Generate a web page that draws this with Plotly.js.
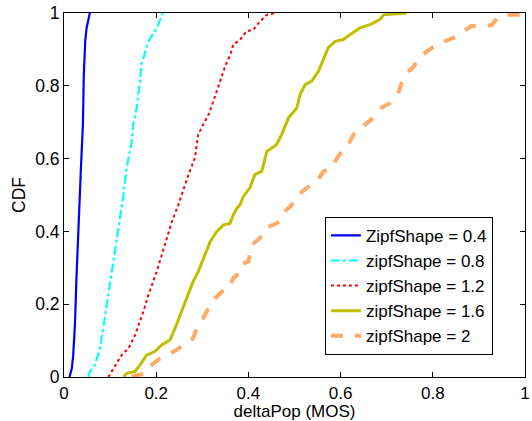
<!DOCTYPE html>
<html>
<head>
<meta charset="utf-8">
<script src="https://cdn.plot.ly/plotly-3.0.1.min.js"></script>
<style>html,body{margin:0;padding:0;background:#fff;}#chart{width:532px;height:421px;}</style>
</head>
<body>
<div id="chart"></div>
<script>
// Series names
const seriesNames = ["ZipfShape = 0.4", "zipfShape = 0.8", "zipfShape = 1.2", "zipfShape = 1.6", "zipfShape = 2"];

// ZipfShape = 0.4
const x04 = [0.012, 0.017, 0.020, 0.024, 0.027, 0.031, 0.035, 0.037, 0.041, 0.043, 0.046, 0.049, 0.056];
const y04 = [0.000, 0.024, 0.060, 0.152, 0.271, 0.408, 0.500, 0.583, 0.693, 0.831, 0.922, 0.959, 1.000];

// zipfShape = 0.8
const x08 = [0.053, 0.056, 0.067, 0.078, 0.085, 0.093, 0.100, 0.107, 0.118, 0.129, 0.132, 0.136, 0.140, 0.147, 0.150, 0.158, 0.161, 0.165, 0.168, 0.176, 0.183, 0.201, 0.215];
const y08 = [0.000, 0.015, 0.033, 0.079, 0.134, 0.198, 0.253, 0.317, 0.408, 0.500, 0.538, 0.574, 0.602, 0.648, 0.693, 0.739, 0.776, 0.812, 0.858, 0.895, 0.922, 0.959, 1.000];

// zipfShape = 1.2
const x12 = [0.096, 0.111, 0.125, 0.140, 0.154, 0.172, 0.183, 0.201, 0.212, 0.223, 0.234, 0.248, 0.255, 0.270, 0.284, 0.291, 0.302, 0.315, 0.330, 0.340, 0.350, 0.362, 0.367, 0.382, 0.396, 0.411, 0.425, 0.440, 0.458];
const y12 = [0.000, 0.033, 0.060, 0.079, 0.115, 0.179, 0.225, 0.289, 0.335, 0.381, 0.427, 0.473, 0.500, 0.556, 0.602, 0.666, 0.693, 0.725, 0.780, 0.820, 0.855, 0.890, 0.913, 0.927, 0.950, 0.954, 0.977, 0.995, 1.000];

// zipfShape = 1.6
const x16 = [0.129, 0.136, 0.154, 0.165, 0.179, 0.197, 0.212, 0.230, 0.241, 0.252, 0.266, 0.280, 0.291, 0.302, 0.317, 0.331, 0.346, 0.360, 0.367, 0.375, 0.382, 0.389, 0.403, 0.414, 0.429, 0.440, 0.461, 0.472, 0.487, 0.505, 0.512, 0.523, 0.537, 0.552, 0.563, 0.573, 0.588, 0.606, 0.620, 0.642, 0.664, 0.685, 0.693, 0.743];
const y16 = [0.000, 0.010, 0.015, 0.033, 0.060, 0.070, 0.088, 0.102, 0.134, 0.170, 0.216, 0.262, 0.289, 0.326, 0.372, 0.399, 0.418, 0.422, 0.445, 0.463, 0.473, 0.496, 0.519, 0.556, 0.565, 0.620, 0.638, 0.666, 0.712, 0.739, 0.776, 0.803, 0.812, 0.840, 0.876, 0.904, 0.922, 0.927, 0.940, 0.959, 0.968, 0.982, 0.995, 1.000];

// zipfShape = 2
const x20 = [0.147, 0.158, 0.179, 0.190, 0.208, 0.223, 0.244, 0.262, 0.280, 0.288, 0.302, 0.317, 0.328, 0.342, 0.356, 0.367, 0.375, 0.382, 0.400, 0.407, 0.425, 0.436, 0.454, 0.469, 0.479, 0.494, 0.505, 0.526, 0.548, 0.563, 0.581, 0.588, 0.602, 0.613, 0.628, 0.642, 0.653, 0.671, 0.685, 0.707, 0.725, 0.732, 0.743, 0.758, 0.772, 0.787, 0.801, 0.823, 0.852, 0.866, 0.884, 0.910, 0.928, 0.939, 0.957, 1.000];
const y20 = [0.000, 0.005, 0.010, 0.033, 0.051, 0.060, 0.074, 0.092, 0.106, 0.134, 0.161, 0.198, 0.216, 0.234, 0.239, 0.271, 0.280, 0.308, 0.317, 0.363, 0.381, 0.408, 0.418, 0.427, 0.454, 0.473, 0.496, 0.519, 0.537, 0.565, 0.574, 0.592, 0.620, 0.629, 0.666, 0.675, 0.693, 0.712, 0.737, 0.752, 0.779, 0.807, 0.834, 0.852, 0.880, 0.894, 0.907, 0.921, 0.935, 0.949, 0.964, 0.964, 0.967, 0.985, 0.995, 0.995];

const xTicks = [0, 0.2, 0.4, 0.6, 0.8, 1];
const yTicks = [0, 0.2, 0.4, 0.6, 0.8, 1];

const FONT = "Liberation Sans, Arial, sans-serif";

const traces = [
  {x: x04, y: y04, name: seriesNames[0], mode: "lines", line: {color: "#0000FF", width: 2.2, dash: "solid"}},
  {x: x08, y: y08, name: seriesNames[1], mode: "lines", line: {color: "#00FFFF", width: 2.2, dash: "dashdot"}},
  {x: x12, y: y12, name: seriesNames[2], mode: "lines", line: {color: "#FF0000", width: 2, dash: "dot"}},
  {x: x16, y: y16, name: seriesNames[3], mode: "lines", line: {color: "#BFBF00", width: 3, dash: "solid"}},
  {x: x20, y: y20, name: seriesNames[4], mode: "lines", line: {color: "#FFAA66", width: 4, dash: "dash"}}
];

const axisCommon = {
  showgrid: false, zeroline: false, showline: true, linecolor: "#000", linewidth: 1,
  mirror: "ticks", ticks: "inside", ticklen: 5, tickcolor: "#000", tickwidth: 1,
  tickfont: {family: FONT, size: 17.5, color: "#000"}
};

const layout = {
  width: 532, height: 421,
  margin: {l: 64, r: 7, t: 13, b: 44},
  paper_bgcolor: "#fff", plot_bgcolor: "#fff",
  font: {family: FONT, size: 17.5, color: "#000"},
  xaxis: Object.assign({}, axisCommon, {
    range: [0, 1], tickvals: xTicks, ticktext: xTicks.map(String),
    ticklabelstandoff: 1,
    tickfont: {family: FONT, size: 17, color: "#000"},
    title: {text: "deltaPop (MOS)", font: {family: FONT, size: 17, color: "#000"}, standoff: 2}
  }),
  yaxis: Object.assign({}, axisCommon, {
    range: [0, 1], tickvals: yTicks, ticktext: yTicks.map(String),
    title: {text: "CDF", font: {family: FONT, size: 17.5, color: "#000"}, standoff: 5}
  }),
  showlegend: true,
  legend: {
    x: 0.566, y: 0.44, xanchor: "left", yanchor: "top",
    bgcolor: "#fff", bordercolor: "#000", borderwidth: 1,
    font: {family: FONT, size: 17, color: "#000"},
    itemwidth: 30, tracegroupgap: 0
  }
};

Plotly.newPlot("chart", traces, layout, {staticPlot: true, displayModeBar: false});
</script>
</body>
</html>
